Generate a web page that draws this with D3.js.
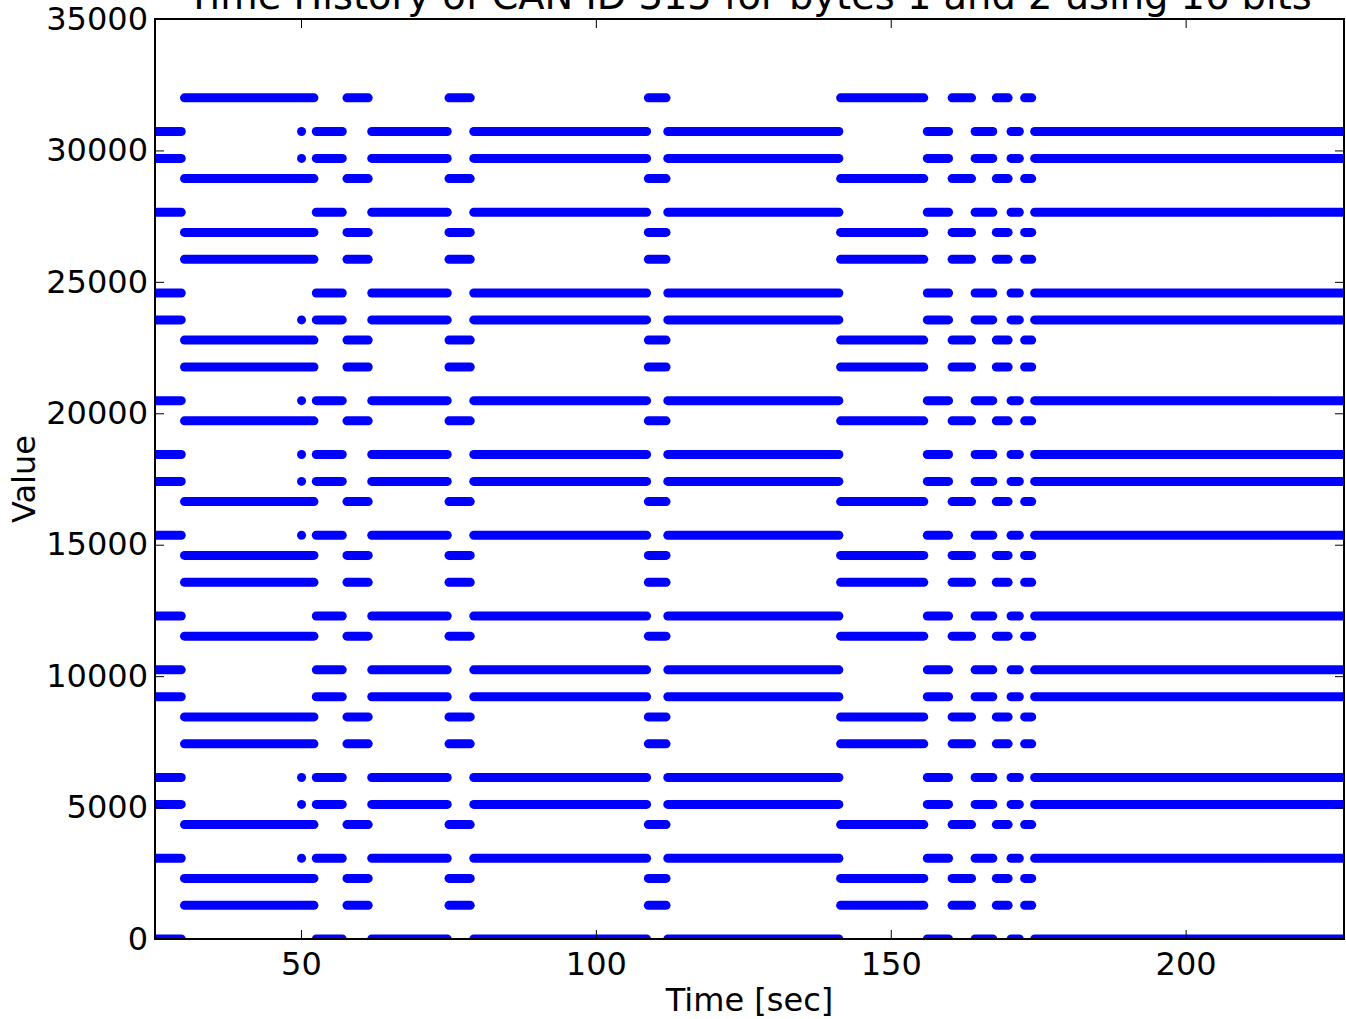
<!DOCTYPE html>
<html><head><meta charset="utf-8">
<script src="https://cdn.jsdelivr.net/npm/d3@7"></script>
<style>body{margin:0;background:#fff;overflow:hidden}</style></head><body>
<script>
// Value levels (16-bit signal from bytes 1 and 2)
const levelsA = [32000, 28928, 26880, 25856, 22784, 21760, 19712, 16640, 14592, 13568, 11520, 8448, 7424, 4352, 2304, 1280];
const levelsB = [30720, 29696, 27648, 24576, 23552, 20480, 18432, 17408, 15360, 12288, 10240, 9216, 6144, 5120, 3072, 0];
// Time spans [start, end] (sec) during which each group of levels is present
const spansA = [[30.25, 52.2], [57.8, 61.4], [75.1, 78.7], [108.9, 111.9], [141.5, 155.6], [160.4, 163.7], [167.9, 169.9], [172.7, 173.9]];
const spansB = [[24.5, 29.7], [52.6, 57.0], [62.0, 74.8], [79.3, 108.6], [112.2, 141.2], [156.2, 159.8], [164.3, 167.3], [170.4, 171.8], [174.4, 228]];
// Single samples near t = 50 s
const dotTime = 50.1;
const dotLevels = [30720, 29696, 23552, 20480, 18432, 17408, 15360, 6144, 5120, 3072];
const xTicks = [50, 100, 150, 200];
const yTicks = [0, 5000, 10000, 15000, 20000, 25000, 30000, 35000];
const titleText = "Time History of CAN ID 315 for bytes 1 and 2 using 16 bits";
const xLabel = "Time [sec]";
const yLabel = "Value";

const W = 1346, H = 1019;
const m = {left: 155, right: 1344, top: 19, bottom: 939};
const x = d3.scaleLinear().domain([25.25, 226.85]).range([m.left, m.right]);
const y = d3.scaleLinear().domain([0, 35000]).range([m.bottom, m.top]);
const FONT = "'DejaVu Sans', sans-serif";

const svg = d3.select("body").append("svg").attr("width", W).attr("height", H)
  .style("font-family", FONT);

svg.append("defs").append("clipPath").attr("id", "clip")
  .append("rect").attr("x", m.left).attr("y", m.top)
  .attr("width", m.right - m.left).attr("height", m.bottom - m.top);

const segs = [];
levelsA.forEach(v => spansA.forEach(s => segs.push({v, t0: s[0], t1: s[1]})));
levelsB.forEach(v => spansB.forEach(s => segs.push({v, t0: s[0], t1: s[1]})));
dotLevels.forEach(v => segs.push({v, t0: dotTime, t1: dotTime + 0.001}));

const g = svg.append("g").attr("clip-path", "url(#clip)");
g.selectAll("line.seg").data(segs).join("line")
  .attr("class", "seg")
  .attr("x1", d => x(d.t0)).attr("x2", d => x(d.t1))
  .attr("y1", d => y(d.v)).attr("y2", d => y(d.v))
  .attr("stroke", "#0000ff").attr("stroke-width", 9)
  .attr("stroke-linecap", "round");

// Axes (ticks inward on all sides)
const tl = 9;
const ax = svg.append("g");
const axB = ax.append("g").attr("transform", `translate(0,${m.bottom})`)
  .call(d3.axisBottom(x).tickValues(xTicks).tickSize(-tl).tickPadding(13));
const axT = ax.append("g").attr("transform", `translate(0,${m.top})`)
  .call(d3.axisTop(x).tickValues(xTicks).tickSize(-tl).tickFormat(""));
const axL = ax.append("g").attr("transform", `translate(${m.left},0)`)
  .call(d3.axisLeft(y).tickValues(yTicks).tickSize(-tl).tickPadding(7).tickFormat(d3.format("d")));
const axR = ax.append("g").attr("transform", `translate(${m.right},0)`)
  .call(d3.axisRight(y).tickValues(yTicks).tickSize(-tl).tickFormat(""));
[axB, axT, axL, axR].forEach(a => {
  a.select(".domain").remove();
  a.selectAll(".tick line").attr("stroke", "#000").attr("stroke-width", 1);
  a.selectAll("text").attr("fill", "#000").style("font-size", "32px").style("font-family", FONT);
});

svg.append("rect").attr("x", m.left).attr("y", m.top)
  .attr("width", m.right - m.left).attr("height", m.bottom - m.top)
  .attr("fill", "none").attr("stroke", "#000").attr("stroke-width", 2);

svg.append("text").attr("x", (m.left + m.right) / 2).attr("y", 9)
  .attr("text-anchor", "middle").style("font-size", "38.4px").text(titleText);
svg.append("text").attr("x", (m.left + m.right) / 2).attr("y", 1011)
  .attr("text-anchor", "middle").style("font-size", "32px").text(xLabel);
svg.append("text").attr("transform", `translate(35,${(m.top + m.bottom) / 2}) rotate(-90)`)
  .attr("text-anchor", "middle").style("font-size", "32px").text(yLabel);
</script>
</body></html>
